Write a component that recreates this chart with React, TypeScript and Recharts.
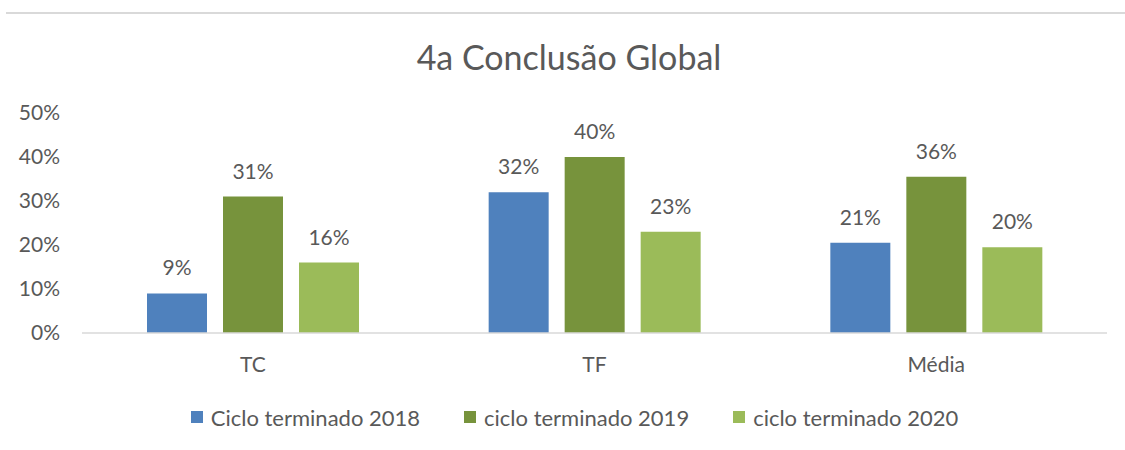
import React from 'react';
import { BarChart, Bar, XAxis, YAxis, Legend, LabelList } from 'recharts';

const categories = ['TC', 'TF', 'Média'];
const ciclo2018 = [9, 32, 20.5];
const ciclo2019 = [31, 40, 35.5];
const ciclo2020 = [16, 23, 19.5];
const seriesNames = ['Ciclo terminado 2018', 'ciclo terminado 2019', 'ciclo terminado 2020'];
const seriesKeys = ['s2018', 's2019', 's2020'];
const seriesColors = ['#4F81BD', '#77933C', '#9BBB59'];
const yTicks = [0, 10, 20, 30, 40, 50];
const title = '4a Conclusão Global';

const data = categories.map((c, i) => ({
  name: c,
  s2018: ciclo2018[i],
  s2019: ciclo2019[i],
  s2020: ciclo2020[i],
}));

const FONT = 'Lato, "Noto Sans", sans-serif';
const TEXT = '#595959';

const LegendContent = () => (
  <div
    style={{
      display: 'flex',
      justifyContent: 'center',
      alignItems: 'center',
      height: 24,
      fontFamily: FONT,
      fontSize: 22,
      color: TEXT,
      paddingLeft: 24,
    }}
  >
    {seriesNames.map((n, i) => (
      <div key={n} style={{ display: 'flex', alignItems: 'center', marginRight: i < 2 ? 44 : 0 }}>
        <div style={{ width: 12, height: 12, background: seriesColors[i], marginRight: 8 }} />
        <span style={{ whiteSpace: 'nowrap' }}>{n}</span>
      </div>
    ))}
  </div>
);

export default function App() {
  return (
    <div style={{ position: 'absolute', left: 0, top: 0, width: 1125, height: 450, background: '#fff' }}>
      <div style={{ position: 'absolute', left: 6, top: 12, width: 1119, height: 0, borderTop: '2px solid #D9D9D9' }} />
      <div
        style={{
          position: 'absolute',
          left: 0,
          top: 36,
          width: 1138,
          textAlign: 'center',
          fontFamily: FONT,
          fontSize: 34,
          color: TEXT,
          lineHeight: '42px',
        }}
      >
        {title}
      </div>
      <BarChart
        width={1125}
        height={450}
        data={data}
        margin={{ top: 113, right: 18, bottom: 63, left: 22 }}
        barSize={60}
        barGap={16}
      >
        <XAxis
          dataKey="name"
          height={30}
          tickLine={false}
          tickMargin={18}
          axisLine={{ stroke: '#D9D9D9', strokeWidth: 1.5 }}
          tick={{ fill: TEXT, fontSize: 21, fontFamily: FONT }}
        />
        <YAxis
          width={60}
          domain={[0, 50]}
          ticks={yTicks}
          tickFormatter={(v: number) => `${v}%`}
          axisLine={false}
          tickLine={false}
          tickMargin={16}
          tick={{ fill: TEXT, fontSize: 21, fontFamily: FONT }}
        />
        <Legend
          verticalAlign="bottom"
          height={24}
          content={<LegendContent />}
          wrapperStyle={{ top: 405, left: 0, width: 1125 }}
        />
        {seriesKeys.map((k, i) => (
          <Bar key={k} dataKey={k} name={seriesNames[i]} fill={seriesColors[i]} isAnimationActive={false}>
            <LabelList
              dataKey={k}
              position="top"
              offset={18}
              formatter={(v: number) => `${Math.round(v)}%`}
              style={{ fill: TEXT, fontSize: 21, fontFamily: FONT }}
            />
          </Bar>
        ))}
      </BarChart>
    </div>
  );
}
